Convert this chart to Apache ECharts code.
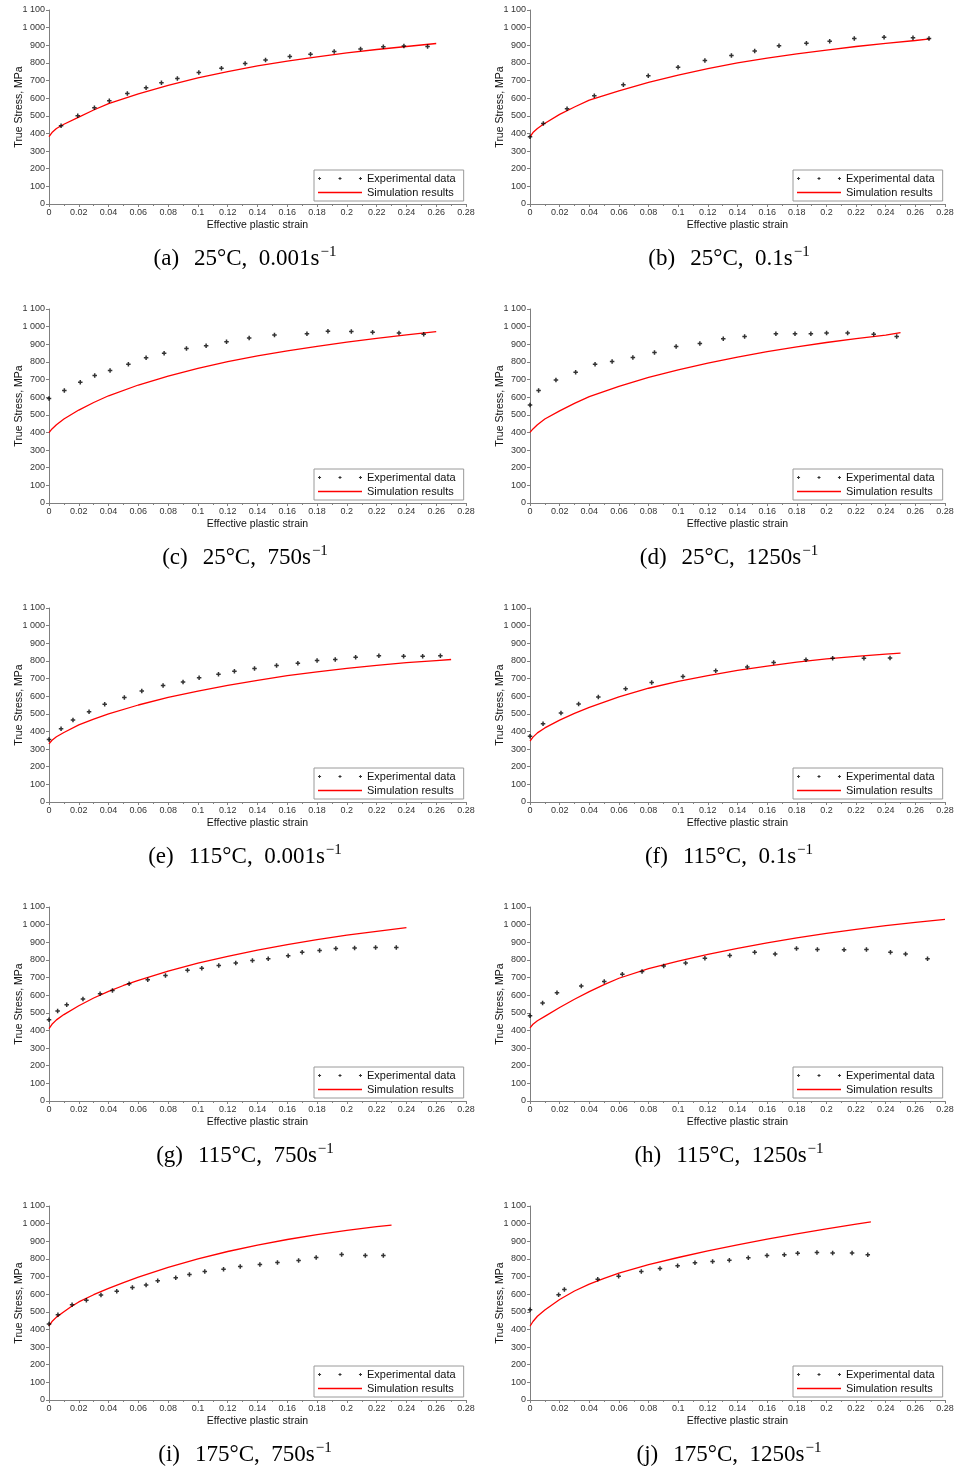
<!DOCTYPE html>
<html><head><meta charset="utf-8">
<script src="https://cdn.jsdelivr.net/npm/echarts@6/dist/echarts.min.js"></script>
<style>html,body{margin:0;padding:0;background:#fff}#c{width:957px;height:1471px}</style>
</head><body><div id="c"></div>
<script>
// ---- data (strain, true stress MPa) ----
const captionLabel = ['(a)', '(b)', '(c)', '(d)', '(e)', '(f)', '(g)', '(h)', '(i)', '(j)'];
const captionMain = ['25°C,  0.001s', '25°C,  0.1s', '25°C,  750s', '25°C,  1250s',
  '115°C,  0.001s', '115°C,  0.1s', '115°C,  750s', '115°C,  1250s',
  '175°C,  750s', '175°C,  1250s'];
const captionSup = '−1';
const seriesNames = ['Experimental data', 'Simulation results'];
const xTitle = 'Effective plastic strain';
const yTitle = 'True Stress, MPa';

const expA = [[0.0081,444],[0.0193,501],[0.0305,546],[0.0405,586],[0.0526,627],[0.0652,659],[0.0755,687],[0.0862,712],[0.1006,746],[0.1158,770],[0.1317,797],[0.1454,817],[0.1617,836],[0.1756,849],[0.1915,864],[0.2092,879],[0.2245,891],[0.2383,896],[0.2542,893]];
const simA = [[0,382],[0.002,405],[0.005,428],[0.01,452],[0.02,493],[0.03,533],[0.04,569],[0.06,625],[0.08,672],[0.1,715],[0.12,751],[0.14,783],[0.16,810],[0.18,834],[0.2,857],[0.22,876],[0.24,893],[0.26,910]];

const expB = [[0,382],[0.009,456],[0.025,540],[0.0434,614],[0.063,676],[0.0798,727],[0.0999,776],[0.118,814],[0.1359,842],[0.1516,868],[0.168,898],[0.1865,911],[0.2022,923],[0.2188,938],[0.2389,945],[0.2584,942],[0.2692,938]];
const simB = [[0,380],[0.002,405],[0.005,428],[0.009,452],[0.02,508],[0.03,550],[0.04,589],[0.06,642],[0.08,689],[0.1,731],[0.12,767],[0.14,800],[0.16,827],[0.18,851],[0.2,873],[0.22,893],[0.24,911],[0.26,927],[0.27,936]];

const expC = [[0,593],[0.0103,638],[0.021,685],[0.0307,723],[0.041,751],[0.0533,787],[0.0652,823],[0.0773,849],[0.0923,876],[0.1055,891],[0.1192,915],[0.1344,936],[0.1514,953],[0.1732,960],[0.1873,974],[0.203,972],[0.2173,968],[0.235,964],[0.2516,957]];
const simC = [[0,399],[0.002,420],[0.005,444],[0.01,476],[0.02,527],[0.03,570],[0.04,608],[0.06,669],[0.08,719],[0.1,763],[0.12,801],[0.14,834],[0.16,862],[0.18,888],[0.2,912],[0.22,934],[0.24,953],[0.26,972]];

const expD = [[0,556],[0.0058,638],[0.0175,697],[0.0308,742],[0.0439,787],[0.0554,802],[0.0694,825],[0.084,853],[0.0986,887],[0.1146,904],[0.1304,932],[0.1448,944],[0.1659,960],[0.1788,960],[0.1895,960],[0.2001,964],[0.2143,964],[0.2319,957],[0.2474,944]];
const simD = [[0,400],[0.002,420],[0.005,444],[0.01,476],[0.02,522],[0.03,565],[0.04,603],[0.06,661],[0.08,712],[0.1,755],[0.12,793],[0.14,827],[0.16,858],[0.18,885],[0.2,910],[0.22,932],[0.24,952],[0.25,966]];

const expE = [[0,354],[0.0081,416],[0.0161,465],[0.0269,512],[0.0374,554],[0.0506,593],[0.0623,629],[0.0766,661],[0.09,680],[0.1008,704],[0.1138,725],[0.1245,742],[0.138,757],[0.1528,774],[0.1671,787],[0.18,802],[0.1922,808],[0.2059,821],[0.2215,829],[0.2381,827],[0.2509,827],[0.2628,829]];
const simE = [[0,330],[0.002,350],[0.005,370],[0.01,394],[0.02,437],[0.03,470],[0.04,500],[0.06,550],[0.08,593],[0.1,629],[0.12,661],[0.14,690],[0.16,716],[0.18,738],[0.2,758],[0.22,775],[0.24,790],[0.26,802],[0.27,808]];

const expF = [[0,373],[0.0088,444],[0.0209,505],[0.0328,556],[0.0461,595],[0.0645,642],[0.0821,678],[0.1032,712],[0.1253,744],[0.1466,766],[0.1644,791],[0.1862,806],[0.2042,815],[0.2253,815],[0.2429,817]];
const simF = [[0,345],[0.002,368],[0.005,392],[0.01,420],[0.02,464],[0.03,502],[0.04,536],[0.06,596],[0.08,645],[0.1,684],[0.12,717],[0.14,746],[0.16,771],[0.18,793],[0.2,811],[0.22,826],[0.24,838],[0.25,844]];

const expG = [[0,461],[0.0058,510],[0.0119,546],[0.0228,578],[0.0343,608],[0.0426,627],[0.0538,665],[0.0663,687],[0.0782,712],[0.093,742],[0.1026,753],[0.114,768],[0.1254,783],[0.1366,797],[0.1472,806],[0.1606,823],[0.17,844],[0.1817,853],[0.1926,864],[0.2052,868],[0.2193,870],[0.2332,870]];
const simG = [[0,410],[0.002,435],[0.005,460],[0.01,490],[0.02,540],[0.03,584],[0.04,622],[0.05,655],[0.06,684],[0.08,736],[0.1,782],[0.12,820],[0.14,855],[0.16,887],[0.18,915],[0.2,940],[0.22,962],[0.24,983]];

const expH = [[0,484],[0.0085,556],[0.0182,614],[0.0346,652],[0.0501,678],[0.0623,718],[0.0756,734],[0.0902,766],[0.105,783],[0.118,810],[0.1348,825],[0.1516,844],[0.1654,834],[0.1798,864],[0.1939,859],[0.2119,857],[0.227,859],[0.2432,844],[0.2534,834],[0.2682,806]];
const simH = [[0,415],[0.002,435],[0.005,455],[0.01,480],[0.02,530],[0.03,577],[0.04,620],[0.05,660],[0.06,696],[0.08,750],[0.1,793],[0.12,831],[0.14,866],[0.16,897],[0.18,925],[0.2,950],[0.22,973],[0.24,994],[0.26,1013],[0.28,1030]];

const expI = [[0,431],[0.006,484],[0.0155,540],[0.0251,565],[0.0349,595],[0.0455,616],[0.056,638],[0.0652,652],[0.073,676],[0.0851,693],[0.0943,712],[0.1046,729],[0.1172,742],[0.1284,757],[0.1416,768],[0.1534,780],[0.1676,791],[0.1794,808],[0.1965,825],[0.2124,819],[0.2245,819]];
const simI = [[0,420],[0.002,445],[0.005,470],[0.01,500],[0.015,530],[0.02,556],[0.03,597],[0.04,633],[0.05,666],[0.06,697],[0.08,752],[0.1,800],[0.12,842],[0.14,878],[0.16,910],[0.18,938],[0.2,962],[0.22,983],[0.23,992]];

const expJ = [[0,512],[0.0193,597],[0.0232,627],[0.0457,684],[0.0598,701],[0.0751,729],[0.0877,746],[0.0996,761],[0.1113,778],[0.1232,785],[0.1345,793],[0.1473,806],[0.1599,819],[0.1716,823],[0.1806,832],[0.1936,836],[0.2042,834],[0.2173,834],[0.2279,823]];
const simJ = [[0,418],[0.002,445],[0.005,475],[0.01,510],[0.02,570],[0.03,618],[0.04,657],[0.05,690],[0.06,719],[0.08,767],[0.1,808],[0.12,845],[0.14,880],[0.16,912],[0.18,942],[0.2,970],[0.22,997],[0.23,1010]];

const expAll = [expA, expB, expC, expD, expE, expF, expG, expH, expI, expJ];
const simAll = [simA, simB, simC, simD, simE, simF, simG, simH, simI, simJ];

// ---- layout ----
const colLeft = [49, 530], colWidth = [417, 415], capCenter = [245, 729];
const rowTop = [10, 309, 608, 907, 1206], plotH = 194;
const sans = 'Liberation Sans, Arial, sans-serif';
const serif = 'Liberation Serif, Times New Roman, serif';
const axisGray = '#7f7f7f';
const plusPath = 'path://M1,0h1v1h1v1h-1v1h-1v-1h-1v-1h1z';
const dotsIcon = 'path://M1,0h1v1h1v1h-1v1h-1v-1h-1v-1h1z M21,0h1v1h1v1h-1v1h-1v-1h-1v-1h1z M41,0h1v1h1v1h-1v1h-1v-1h-1v-1h1z';
const lineIcon = 'path://M0,0h44v1.4h-44z';

const grids = [], xAxes = [], yAxes = [], series = [], legends = [], graphics = [];
const fmtX = v => String(+v.toFixed(2));
const fmtY = v => v >= 1000 ? Math.floor(v / 1000) + ' ' + String(v % 1000).padStart(3, '0') : String(v);

for (let i = 0; i < 10; i++) {
  const c = i % 2, r = Math.floor(i / 2);
  grids.push({ left: colLeft[c], top: rowTop[r], width: colWidth[c], height: plotH, containLabel: false });
  xAxes.push({
    type: 'value', gridIndex: i, min: 0, max: 0.28, interval: 0.02,
    axisLine: { show: true, onZero: false, lineStyle: { color: axisGray, width: 1 } },
    axisTick: { show: true, length: 3, lineStyle: { color: axisGray } },
    minorTick: { show: true, splitNumber: 2, length: 2, lineStyle: { color: axisGray } },
    splitLine: { show: false },
    axisLabel: { fontSize: 9, color: '#333', margin: 4, fontFamily: sans, formatter: fmtX, showMinLabel: true, showMaxLabel: true },
    name: xTitle, nameLocation: 'middle', nameGap: 16, nameMoveOverlap: false,
    nameTextStyle: { fontSize: 10.5, color: '#111', fontFamily: sans }
  });
  yAxes.push({
    type: 'value', gridIndex: i, min: 0, max: 1100, interval: 100,
    axisLine: { show: true, onZero: false, lineStyle: { color: axisGray, width: 1 } },
    axisTick: { show: true, length: 3, lineStyle: { color: axisGray } },
    splitLine: { show: false },
    axisLabel: { fontSize: 9, color: '#333', margin: 4, fontFamily: sans, formatter: fmtY },
    name: yTitle, nameLocation: 'middle', nameGap: 24, nameRotate: 90, nameMoveOverlap: false,
    nameTextStyle: { fontSize: 10.5, color: '#111', fontFamily: sans }
  });
  series.push({
    name: seriesNames[0], type: 'scatter', xAxisIndex: i, yAxisIndex: i,
    data: expAll[i], symbol: plusPath, symbolSize: 4.5,
    itemStyle: { color: '#000' }, z: 3
  });
  series.push({
    name: seriesNames[1], type: 'line', xAxisIndex: i, yAxisIndex: i,
    data: simAll[i], symbol: 'none', showSymbol: false, smooth: false,
    lineStyle: { color: '#ff0000', width: 1.3 }, itemStyle: { color: '#ff0000' }, z: 2
  });
  legends.push({
    orient: 'vertical', left: colLeft[c] + colWidth[c] - 152, top: rowTop[r] + 160,
    itemWidth: 44, itemHeight: 10, itemGap: 3, padding: [3, 8, 3, 4],
    borderColor: '#9a9a9a', borderWidth: 1, backgroundColor: '#fff', selectedMode: false,
    textStyle: { fontSize: 11, color: '#111', fontFamily: sans },
    data: [{ name: seriesNames[0], icon: dotsIcon }, { name: seriesNames[1], icon: lineIcon }]
  });
  graphics.push({
    type: 'text', x: capCenter[c], y: rowTop[r] + 249,
    style: {
      text: '{l|' + captionLabel[i] + '}{m|' + captionMain[i] + '}{s|' + captionSup + '}',
      align: 'center', verticalAlign: 'middle',
      rich: {
        l: { fontSize: 23, fontFamily: serif, color: '#000', padding: [0, 15, 0, 0] },
        m: { fontSize: 23, fontFamily: serif, color: '#000' },
        s: { fontSize: 15, fontFamily: serif, color: '#000', padding: [0, 0, 13, 1] }
      }
    }
  });
}

const chart = echarts.init(document.getElementById('c'), null, { renderer: 'canvas' });
chart.setOption({
  animation: false, backgroundColor: '#fff',
  grid: grids, xAxis: xAxes, yAxis: yAxes, series: series, legend: legends, graphic: graphics
});
</script></body></html>
